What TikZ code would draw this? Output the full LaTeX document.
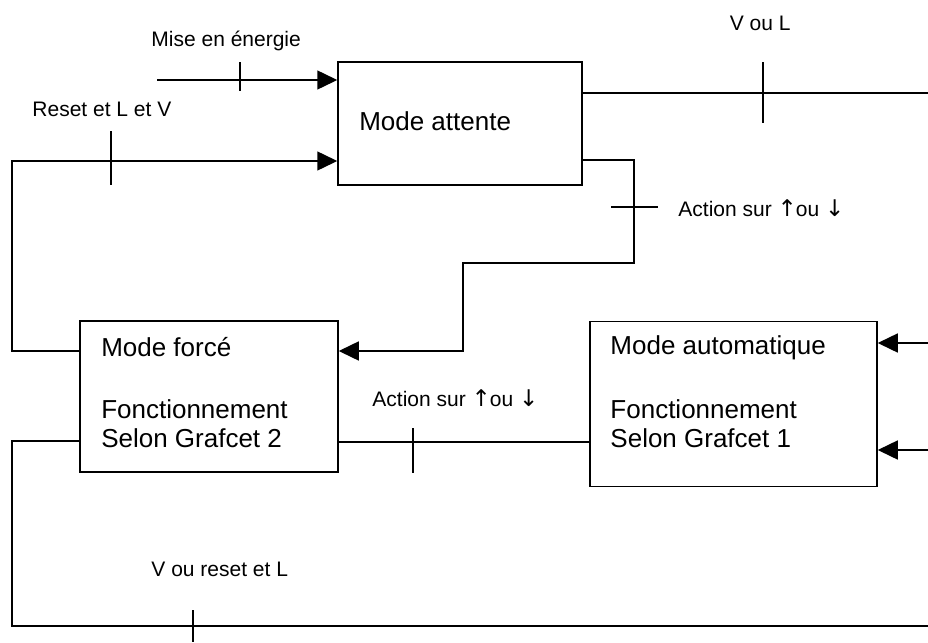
\documentclass[tikz,border=0pt]{standalone}
\usepackage{fontspec}
\setmainfont{Liberation Sans}
\newfontfamily\arrowfont{DejaVu Sans}
\usetikzlibrary{arrows.meta}
\newcommand{\upar}{{\arrowfont\fontsize{23}{26}\selectfont ↑}}
\newcommand{\dnar}{{\arrowfont\fontsize{23}{26}\selectfont ↓}}
\begin{document}
\begin{tikzpicture}[x=1pt,y=-1pt,
  line width=1.5pt,
  box/.style={draw, line width=1.5pt, inner sep=0pt},
  boxtxt/.style={anchor=base west, inner sep=0pt, font=\fontsize{26}{30}\selectfont},
  lbl/.style={anchor=base west, inner sep=0pt, font=\fontsize{21}{25}\selectfont},
  arr/.style={-{Triangle[length=20pt,width=19pt]}},
  tick/.style={line width=1.5pt}]
\useasboundingbox (0,0) rectangle (928,642);

% boxes
\node[box, minimum width=244pt, minimum height=123pt] (attente) at (460,123.5) {};
\node[box, minimum width=258pt, minimum height=151pt] (forced) at (209,396.5) {};
\node[box, minimum width=287pt, minimum height=165pt] (auto) at (733.5,404) {};

% box texts
\node[boxtxt] (t1) at (358.5,130) {Mode attente};
\node[boxtxt] (t2) at (100.5,356.5) {Mode forcé};
\node[boxtxt] (t3) at (100.5,418) {Fonctionnement};
\node[boxtxt] (t4) at (100.5,447.3) {Selon Grafcet 2};
\node[boxtxt] (t5) at (609.7,354.7) {Mode automatique};
\node[boxtxt] (t6) at (609.7,418) {Fonctionnement};
\node[boxtxt] (t7) at (609.7,447.3) {Selon Grafcet 1};

% labels
\node[lbl] (l1) at (150.7,46.7) {Mise en énergie};
\node[lbl] (l2) at (729,30.7) {V ou L};
\node[lbl] (l3) at (31.7,116.7) {Reset et L et V};
\node[lbl] (l4) at (677.7,216) {Action sur \upar\hspace{-1pt}ou \dnar};
\node[lbl] (l5) at (371.7,406.7) {Action sur \upar\hspace{-1pt}ou \dnar};
\node[lbl] (l6) at (150.7,576) {V ou reset et L};

% coordinates
\coordinate (mise) at (157,80);
\coordinate (vl) at (928,93);
\coordinate (c1) at (12,351);
\coordinate (c2) at (12,161);
\coordinate (a1) at (634,160);
\coordinate (a2) at (634,263);
\coordinate (a3) at (463,263);
\coordinate (a4) at (463,351);
\coordinate (m) at (400,442);
\coordinate (r1) at (928,343);
\coordinate (r2) at (928,450);
\coordinate (b1) at (12,441);
\coordinate (b2) at (12,626);
\coordinate (b3) at (928,626);

% connectors
\draw[arr] (mise) -- (mise -| attente.west);
\draw (attente.east |- vl) -- (vl);
\draw[arr] (forced.west |- c1) -- (c1) -- (c2) -- (c2 -| attente.west);
\draw[arr] (attente.east |- a1) -- (a1) -- (a2) -- (a3) -- (a4) -- (a4 -| forced.east);
\draw (forced.east |- m) -- (auto.west |- m);
\draw[arr] (r1) -- (r1 -| auto.east);
\draw[arr] (r2) -- (r2 -| auto.east);
\draw (forced.west |- b1) -- (b1) -- (b2) -- (b3);

% transition ticks
\draw[tick] (240,62) -- (240,91);
\draw[tick] (763,62) -- (763,123);
\draw[tick] (111,131) -- (111,185);
\draw[tick] (611,207) -- (658,207);
\draw[tick] (413,428) -- (413,473);
\draw[tick] (193,610) -- (193,642);
\end{tikzpicture}
\end{document}
